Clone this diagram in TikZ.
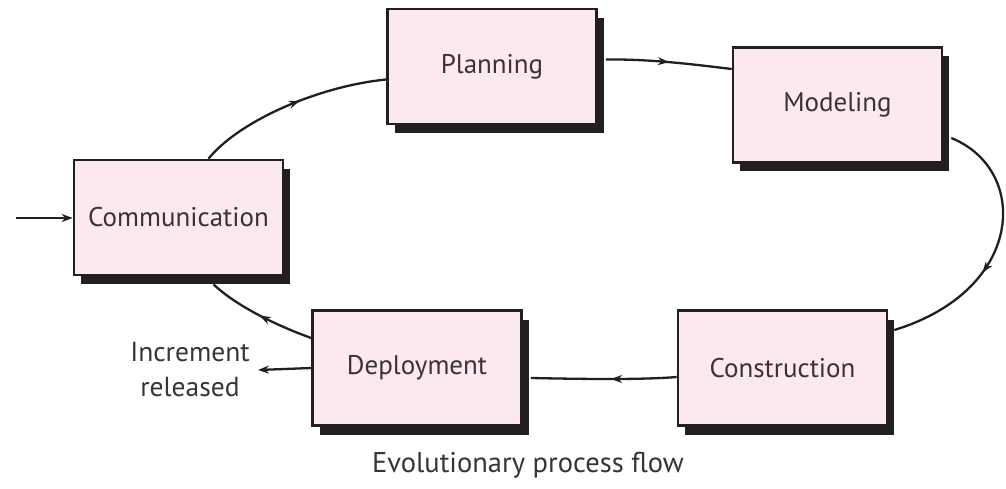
\documentclass[tikz,border=0pt]{standalone}
\usepackage{fontspec}
\setmainfont{PT Sans}
\usetikzlibrary{arrows.meta,shadows,calc,decorations.markings}
\definecolor{boxfill}{HTML}{FCE8F0}
\definecolor{shadowc}{HTML}{231F20}
\definecolor{txt}{HTML}{3A3335}
\tikzset{
  stagebox/.style={draw=shadowc,line width=2.6pt,fill=boxfill,minimum width=209pt,minimum height=115pt,
    inner sep=0pt,text=txt,font=\fontsize{27}{30}\selectfont,
    drop shadow={shadow xshift=7pt,shadow yshift=-9pt,fill=shadowc,opacity=1}},
  conn/.style={line width=2.3pt,draw=shadowc},
  tip/.style={-{Stealth[length=11pt,width=8pt]}},
  midarrow/.style={postaction={decorate},decoration={markings,mark=at position #1 with {\arrow{Stealth[length=11pt,width=8pt]}}}},
  lbl/.style={text=txt,font=\fontsize{27.5}{35}\selectfont,align=center,inner sep=0pt}
}
\begin{document}
\begin{tikzpicture}[x=1pt,y=-1pt]
\useasboundingbox (0,0) rectangle (1006,489);
\node[stagebox] (comm) at (178.5,217.5) {Communication};
\node[stagebox] (plan) at (492,66.5) {Planning};
\node[stagebox] (model) at (837.5,105) {Modeling};
\node[stagebox] (constr) at (782.5,368) {Construction};
\node[stagebox] (depl) at (417,368) {Deployment};
\node[lbl] (inc) at (190,370) {Increment\\released};
\node[lbl,font=\fontsize{28.5}{32}\selectfont] (title) at (528,465) {Evolutionary process flow};
\coordinate (entry) at (16,218);
% connectors
\draw[conn,tip] (entry) -- (comm.west |- entry);
\draw[conn,midarrow=0.55] ($(comm.north)+(30,0)$) .. controls (240,120) and (320,86) .. ($(plan.west)+(0,13)$);
\draw[conn,midarrow=0.5] ($(plan.east)+(8,-7)$) .. controls (650,59) and (690,64) .. ($(model.west)+(0,-36)$);
\draw[conn,midarrow=0.6] ($(model.east)+(8,33)$) .. controls (1030,170) and (1025,290) .. ($(constr.east)+(6,-38)$);
\draw[conn,midarrow=0.45] ($(constr.west)+(0,9)$) .. controls (640,380) and (580,379) .. ($(depl.east)+(8,10)$);
\draw[conn,midarrow=0.5] ($(depl.west)+(0,-30)$) .. controls (275,325) and (235,305) .. ($(comm.south)+(35,8)$);
\draw[conn,tip] (depl.west) -- (inc.east -| 258,0);
\end{tikzpicture}
\end{document}
